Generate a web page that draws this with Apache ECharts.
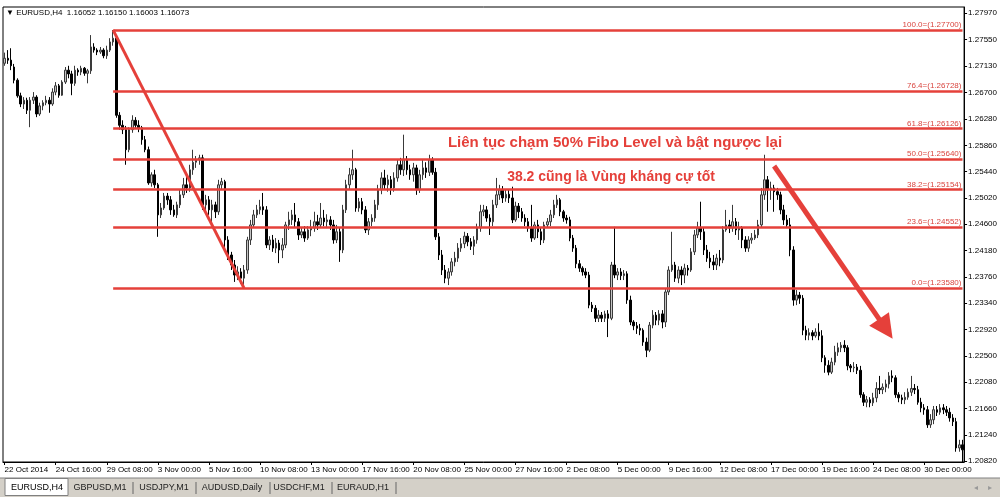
<!DOCTYPE html>
<html><head><meta charset="utf-8">
<script src="https://cdn.jsdelivr.net/npm/echarts@6/dist/echarts.min.js"></script>
<style>html,body{margin:0;padding:0;background:#fff}#c{width:1000px;height:497px}</style>
</head><body><div id="c"></div><script>
// EURUSD H4 candles
const opens=[
1.2717,1.2725,1.2722,1.2711,1.2690,1.2665,1.2652,1.2658,1.2642,1.2658,
1.2663,1.2636,1.2649,1.2654,1.2658,1.2652,1.2671,1.2681,1.2666,1.2687,
1.2706,1.2700,1.2685,1.2706,1.2703,1.2709,1.2701,1.2705,1.2743,1.2738,
1.2735,1.2738,1.2729,1.2738,1.2751,1.2757,1.2634,1.2618,1.2611,1.2579,
1.2611,1.2626,1.2618,1.2614,1.2595,1.2579,1.2526,1.2539,1.2523,1.2475,
1.2486,1.2505,1.2499,1.2483,1.2475,1.2491,1.2507,1.2523,1.2518,1.2547,
1.2559,1.2563,1.2566,1.2491,1.2499,1.2483,1.2491,1.2480,1.2523,1.2528,
1.2435,1.2411,1.2395,1.2379,1.2384,1.2374,1.2387,1.2435,1.2459,1.2475,
1.2483,1.2488,1.2483,1.2427,1.2435,1.2422,1.2430,1.2419,1.2427,1.2459,
1.2467,1.2475,1.2464,1.2443,1.2448,1.2438,1.2451,1.2454,1.2464,1.2459,
1.2470,1.2464,1.2467,1.2459,1.2435,1.2448,1.2419,1.2483,1.2523,1.2539,
1.2547,1.2486,1.2496,1.2483,1.2451,1.2464,1.2470,1.2491,1.2515,1.2534,
1.2523,1.2531,1.2518,1.2534,1.2555,1.2547,1.2563,1.2547,1.2539,1.2550,
1.2515,1.2539,1.2550,1.2543,1.2563,1.2543,1.2440,1.2411,1.2387,1.2374,
1.2384,1.2400,1.2406,1.2422,1.2429,1.2441,1.2432,1.2425,1.2435,1.2454,
1.2480,1.2483,1.2470,1.2464,1.2491,1.2507,1.2515,1.2502,1.2508,1.2502,
1.2467,1.2489,1.2480,1.2470,1.2464,1.2454,1.2438,1.2459,1.2448,1.2435,
1.2459,1.2464,1.2475,1.2491,1.2499,1.2480,1.2470,1.2467,1.2438,1.2422,
1.2397,1.2390,1.2384,1.2379,1.2331,1.2326,1.2310,1.2315,1.2310,1.2317,
1.2310,1.2395,1.2379,1.2384,1.2378,1.2381,1.2339,1.2304,1.2298,1.2294,
1.2291,1.2272,1.2259,1.2299,1.2315,1.2307,1.2317,1.2304,1.2352,1.2387,
1.2395,1.2374,1.2387,1.2379,1.2390,1.2387,1.2416,1.2443,1.2454,1.2448,
1.2419,1.2406,1.2400,1.2395,1.2406,1.2403,1.2451,1.2459,1.2454,1.2464,
1.2451,1.2454,1.2435,1.2422,1.2435,1.2438,1.2443,1.2459,1.2507,1.2531,
1.2515,1.2518,1.2512,1.2507,1.2483,1.2467,1.2459,1.2419,1.2339,1.2347,
1.2342,1.2291,1.2283,1.2287,1.2282,1.2288,1.2282,1.2247,1.2235,1.2224,
1.2240,1.2256,1.2263,1.2267,1.2263,1.2234,1.2231,1.2232,1.2227,1.2188,
1.2176,1.2180,1.2175,1.2183,1.2198,1.2196,1.2200,1.2205,1.2218,1.2215,
1.2188,1.2183,1.2180,1.2184,1.2192,1.2198,1.2196,1.2176,1.2167,1.2164,
1.2140,1.2148,1.2164,1.2160,1.2167,1.2164,1.2160,1.2151,1.2145,1.2103,1.2108];
const closes=[
1.2725,1.2722,1.2713,1.2690,1.2665,1.2652,1.2658,1.2642,1.2658,1.2663,
1.2636,1.2649,1.2654,1.2658,1.2652,1.2671,1.2681,1.2666,1.2687,1.2706,
1.2700,1.2685,1.2706,1.2703,1.2709,1.2701,1.2705,1.2743,1.2738,1.2735,
1.2738,1.2729,1.2738,1.2751,1.2757,1.2634,1.2618,1.2611,1.2579,1.2611,
1.2626,1.2618,1.2614,1.2595,1.2579,1.2526,1.2539,1.2523,1.2475,1.2486,
1.2505,1.2499,1.2483,1.2475,1.2491,1.2507,1.2523,1.2518,1.2547,1.2559,
1.2563,1.2566,1.2491,1.2499,1.2483,1.2491,1.2480,1.2523,1.2528,1.2435,
1.2411,1.2395,1.2379,1.2384,1.2374,1.2387,1.2435,1.2459,1.2475,1.2483,
1.2488,1.2483,1.2427,1.2435,1.2422,1.2430,1.2419,1.2427,1.2459,1.2467,
1.2475,1.2464,1.2443,1.2448,1.2438,1.2451,1.2454,1.2464,1.2459,1.2470,
1.2464,1.2467,1.2459,1.2435,1.2448,1.2419,1.2483,1.2523,1.2539,1.2547,
1.2486,1.2496,1.2483,1.2451,1.2464,1.2470,1.2491,1.2515,1.2534,1.2523,
1.2531,1.2518,1.2534,1.2555,1.2547,1.2563,1.2547,1.2539,1.2550,1.2515,
1.2539,1.2550,1.2543,1.2563,1.2543,1.2440,1.2411,1.2387,1.2374,1.2384,
1.2400,1.2406,1.2422,1.2429,1.2441,1.2432,1.2425,1.2435,1.2454,1.2480,
1.2483,1.2470,1.2464,1.2491,1.2507,1.2515,1.2502,1.2508,1.2502,1.2467,
1.2489,1.2480,1.2470,1.2464,1.2454,1.2438,1.2459,1.2448,1.2435,1.2459,
1.2464,1.2475,1.2491,1.2499,1.2480,1.2470,1.2467,1.2438,1.2422,1.2397,
1.2390,1.2384,1.2379,1.2331,1.2326,1.2310,1.2315,1.2310,1.2317,1.2310,
1.2395,1.2379,1.2384,1.2378,1.2381,1.2339,1.2304,1.2298,1.2294,1.2291,
1.2272,1.2259,1.2299,1.2315,1.2307,1.2317,1.2304,1.2352,1.2387,1.2395,
1.2374,1.2387,1.2379,1.2390,1.2387,1.2416,1.2443,1.2454,1.2448,1.2419,
1.2406,1.2400,1.2395,1.2406,1.2403,1.2451,1.2459,1.2454,1.2464,1.2451,
1.2454,1.2435,1.2422,1.2435,1.2438,1.2443,1.2459,1.2507,1.2531,1.2515,
1.2518,1.2512,1.2507,1.2483,1.2467,1.2459,1.2419,1.2339,1.2347,1.2342,
1.2291,1.2283,1.2287,1.2282,1.2288,1.2282,1.2247,1.2235,1.2224,1.2240,
1.2256,1.2263,1.2267,1.2263,1.2234,1.2231,1.2232,1.2227,1.2188,1.2176,
1.2180,1.2175,1.2183,1.2198,1.2196,1.2200,1.2205,1.2218,1.2215,1.2188,
1.2183,1.2180,1.2184,1.2192,1.2198,1.2196,1.2176,1.2167,1.2164,1.2140,
1.2148,1.2164,1.2160,1.2167,1.2164,1.2160,1.2151,1.2145,1.2103,1.2108,1.2100];
const lows=[
1.2713,1.2716,1.2706,1.2685,1.2662,1.2647,1.2644,1.2636,1.2615,1.2652,
1.2631,1.2633,1.2642,1.2650,1.2638,1.2649,1.2666,1.2662,1.2665,1.2684,
1.2693,1.2666,1.2681,1.2697,1.2698,1.2697,1.2685,1.2700,1.2734,1.2730,
1.2732,1.2725,1.2724,1.2735,1.2745,1.2630,1.2611,1.2604,1.2555,1.2575,
1.2606,1.2614,1.2607,1.2587,1.2575,1.2523,1.2520,1.2518,1.2440,1.2470,
1.2483,1.2491,1.2475,1.2472,1.2470,1.2486,1.2502,1.2510,1.2512,1.2539,
1.2550,1.2555,1.2483,1.2480,1.2475,1.2459,1.2470,1.2475,1.2515,1.2419,
1.2403,1.2387,1.2368,1.2371,1.2365,1.2358,1.2381,1.2427,1.2454,1.2470,
1.2476,1.2475,1.2422,1.2419,1.2416,1.2414,1.2398,1.2406,1.2422,1.2451,
1.2459,1.2454,1.2435,1.2438,1.2432,1.2435,1.2441,1.2448,1.2451,1.2454,
1.2457,1.2454,1.2451,1.2429,1.2430,1.2400,1.2414,1.2478,1.2515,1.2531,
1.2480,1.2480,1.2476,1.2446,1.2443,1.2457,1.2464,1.2483,1.2508,1.2515,
1.2512,1.2507,1.2512,1.2528,1.2539,1.2537,1.2539,1.2531,1.2528,1.2507,
1.2510,1.2531,1.2534,1.2537,1.2539,1.2435,1.2403,1.2379,1.2366,1.2363,
1.2378,1.2393,1.2400,1.2416,1.2422,1.2425,1.2419,1.2411,1.2429,1.2448,
1.2473,1.2464,1.2443,1.2457,1.2486,1.2499,1.2494,1.2496,1.2494,1.2462,
1.2464,1.2470,1.2464,1.2457,1.2448,1.2432,1.2435,1.2438,1.2427,1.2430,
1.2454,1.2457,1.2470,1.2486,1.2473,1.2464,1.2461,1.2433,1.2416,1.2390,
1.2384,1.2378,1.2374,1.2326,1.2320,1.2304,1.2304,1.2304,1.2304,1.2280,
1.2307,1.2374,1.2371,1.2371,1.2371,1.2333,1.2299,1.2291,1.2285,1.2283,
1.2266,1.2248,1.2256,1.2294,1.2299,1.2299,1.2294,1.2296,1.2347,1.2384,
1.2368,1.2366,1.2363,1.2366,1.2378,1.2384,1.2411,1.2438,1.2435,1.2411,
1.2400,1.2390,1.2387,1.2387,1.2393,1.2398,1.2448,1.2446,1.2448,1.2443,
1.2435,1.2422,1.2416,1.2416,1.2429,1.2435,1.2438,1.2454,1.2499,1.2480,
1.2499,1.2480,1.2499,1.2476,1.2459,1.2454,1.2409,1.2330,1.2331,1.2333,
1.2283,1.2275,1.2275,1.2275,1.2279,1.2275,1.2240,1.2223,1.2219,1.2221,
1.2235,1.2250,1.2256,1.2256,1.2227,1.2224,1.2224,1.2221,1.2183,1.2170,
1.2168,1.2168,1.2170,1.2176,1.2189,1.2189,1.2192,1.2198,1.2208,1.2183,
1.2176,1.2173,1.2173,1.2180,1.2186,1.2189,1.2172,1.2160,1.2156,1.2135,
1.2135,1.2141,1.2154,1.2156,1.2157,1.2154,1.2145,1.2138,1.2097,1.2097,1.2079];
const highs=[
1.2734,1.2738,1.2741,1.2716,1.2693,1.2670,1.2663,1.2662,1.2663,1.2671,
1.2666,1.2654,1.2658,1.2665,1.2663,1.2677,1.2687,1.2684,1.2690,1.2711,
1.2713,1.2705,1.2713,1.2709,1.2713,1.2711,1.2708,1.2762,1.2749,1.2741,
1.2743,1.2741,1.2745,1.2757,1.2770,1.2761,1.2639,1.2626,1.2617,1.2615,
1.2634,1.2631,1.2626,1.2617,1.2601,1.2584,1.2543,1.2547,1.2526,1.2494,
1.2510,1.2510,1.2505,1.2491,1.2496,1.2515,1.2534,1.2537,1.2555,1.2579,
1.2569,1.2571,1.2571,1.2507,1.2505,1.2499,1.2496,1.2531,1.2534,1.2531,
1.2441,1.2416,1.2403,1.2393,1.2390,1.2395,1.2440,1.2467,1.2483,1.2491,
1.2499,1.2510,1.2489,1.2441,1.2443,1.2438,1.2435,1.2438,1.2464,1.2480,
1.2483,1.2494,1.2470,1.2454,1.2457,1.2457,1.2467,1.2480,1.2475,1.2494,
1.2483,1.2476,1.2473,1.2467,1.2459,1.2454,1.2491,1.2531,1.2550,1.2579,
1.2550,1.2502,1.2502,1.2489,1.2470,1.2476,1.2499,1.2523,1.2543,1.2547,
1.2539,1.2537,1.2543,1.2563,1.2566,1.2603,1.2569,1.2555,1.2558,1.2555,
1.2547,1.2563,1.2559,1.2571,1.2567,1.2550,1.2446,1.2419,1.2395,1.2390,
1.2406,1.2416,1.2430,1.2438,1.2448,1.2446,1.2438,1.2441,1.2461,1.2491,
1.2491,1.2489,1.2476,1.2499,1.2534,1.2523,1.2521,1.2516,1.2516,1.2520,
1.2496,1.2494,1.2486,1.2476,1.2470,1.2491,1.2464,1.2467,1.2454,1.2464,
1.2470,1.2483,1.2499,1.2507,1.2502,1.2483,1.2475,1.2472,1.2443,1.2427,
1.2403,1.2393,1.2390,1.2384,1.2336,1.2331,1.2323,1.2320,1.2322,1.2323,
1.2400,1.2456,1.2390,1.2390,1.2387,1.2385,1.2346,1.2307,1.2304,1.2301,
1.2294,1.2279,1.2304,1.2323,1.2320,1.2323,1.2323,1.2358,1.2393,1.2448,
1.2400,1.2393,1.2393,1.2397,1.2395,1.2422,1.2451,1.2464,1.2496,1.2454,
1.2427,1.2416,1.2411,1.2413,1.2419,1.2457,1.2483,1.2467,1.2491,1.2470,
1.2464,1.2457,1.2441,1.2441,1.2446,1.2451,1.2467,1.2518,1.2571,1.2537,
1.2528,1.2523,1.2518,1.2512,1.2491,1.2475,1.2470,1.2425,1.2355,1.2352,
1.2347,1.2298,1.2294,1.2291,1.2294,1.2302,1.2291,1.2251,1.2243,1.2247,
1.2266,1.2271,1.2272,1.2275,1.2267,1.2237,1.2240,1.2237,1.2234,1.2192,
1.2186,1.2184,1.2191,1.2208,1.2218,1.2206,1.2212,1.2224,1.2227,1.2219,
1.2192,1.2188,1.2192,1.2198,1.2218,1.2205,1.2202,1.2183,1.2173,1.2170,
1.2157,1.2170,1.2170,1.2173,1.2173,1.2170,1.2167,1.2157,1.2151,1.2116,1.2116];

const tickLabels=['22 Oct 2014','24 Oct 16:00','29 Oct 08:00','3 Nov 00:00','5 Nov 16:00','10 Nov 08:00','13 Nov 00:00','17 Nov 16:00','20 Nov 08:00','25 Nov 00:00','27 Nov 16:00','2 Dec 08:00','5 Dec 00:00','9 Dec 16:00','12 Dec 08:00','17 Dec 00:00','19 Dec 16:00','24 Dec 08:00','30 Dec 00:00'];
const barsPerLabel=16;
const priceTicks=[1.27970,1.27550,1.27130,1.26700,1.26280,1.25860,1.25440,1.25020,1.24600,1.24180,1.23760,1.23340,1.22920,1.22500,1.22080,1.21660,1.21240,1.20820];
const priceMin=1.20806, priceMax=1.28068;
const fiboLevels=[100.0,76.4,61.8,50.0,38.2,23.6,0.0];
const fiboPrices=[1.27700,1.26728,1.26126,1.25640,1.25154,1.24552,1.23580];
const fiboStartBar=34, fiboEndBar=300;
const trendLine=[[34,1.2770],[75,1.2358]];
const arrowLine=[[241,1.2553],[276,1.2293]];
const headerText='EURUSD,H4  1.16052 1.16150 1.16003 1.16073';
const noteTexts=['Liên tục chạm 50% Fibo Level và bật ngược lại','38.2 cũng là Vùng kháng cự tốt'];
const tabs=['EURUSD,H4','GBPUSD,M1','USDJPY,M1','AUDUSD,Daily','USDCHF,M1','EURAUD,H1'];

const RED='#e5403a';
const FONT='"Liberation Sans", Arial, sans-serif';
const categories=opens.map((_,i)=>String(i));
const candles=opens.map((o,i)=>[o,closes[i],lows[i],highs[i]]);

const fiboMarks=fiboPrices.map((p,k)=>[
  {coord:[fiboStartBar,p],
   label:{show:true,position:'insideEndTop',distance:1,formatter:fiboLevels[k].toFixed(1)+'=('+p.toFixed(5)+')',
          color:'#d9453f',fontSize:8,fontFamily:FONT}},
  {coord:[fiboEndBar,p]}
]);

const chart=echarts.init(document.getElementById('c'),null,{renderer:'canvas'});

// tab bar graphics
const tabX=[6,72,137,199,271,335];
const tabW=[62,56,54,66,56,56];
const tabGraphics=[];
tabGraphics.push({type:'rect',shape:{x:0,y:478,width:1000,height:19},style:{fill:'#d4d0c8'},silent:true});
tabGraphics.push({type:'line',shape:{x1:0,y1:478,x2:1000,y2:478},style:{stroke:'#808080',lineWidth:1}});
tabGraphics.push({type:'rect',shape:{x:5,y:478.5,width:63,height:17},style:{fill:'#ffffff',stroke:'#808080',lineWidth:1}});
tabs.forEach((t,i)=>{
  tabGraphics.push({type:'text',style:{x:tabX[i]+tabW[i]/2,y:488,text:t,align:'center',verticalAlign:'middle',font:'9px '+FONT,fill:i===0?'#000':'#222'}});
  if(i>0) tabGraphics.push({type:'line',shape:{x1:tabX[i]+tabW[i]+5,y1:482,x2:tabX[i]+tabW[i]+5,y2:494},style:{stroke:'#666',lineWidth:1}});
});
tabGraphics.push({type:'text',style:{x:976,y:488,text:'◂',align:'center',verticalAlign:'middle',font:'8px '+FONT,fill:'#999'}});
tabGraphics.push({type:'text',style:{x:990,y:488,text:'▸',align:'center',verticalAlign:'middle',font:'8px '+FONT,fill:'#999'}});

chart.setOption({
  animation:false,
  backgroundColor:'#ffffff',
  grid:{left:3,right:35,top:7,bottom:35,show:true,borderColor:'#000',borderWidth:1,backgroundColor:'#fff'},
  xAxis:{type:'category',data:categories,boundaryGap:true,
    axisLine:{lineStyle:{color:'#000',width:1}},
    axisTick:{show:true,alignWithLabel:true,interval:barsPerLabel-1,length:3,lineStyle:{color:'#000'}},
    axisLabel:{interval:barsPerLabel-1,align:'left',margin:4,fontSize:8,fontFamily:FONT,color:'#000',
      formatter:(v,i)=>tickLabels[Math.round(i/barsPerLabel)]||''},
    splitLine:{show:false}},
  yAxis:{type:'value',position:'right',min:priceMin,max:priceMax,scale:true,
    axisLine:{show:true,lineStyle:{color:'#000',width:1}},
    axisTick:{show:true,length:3,customValues:priceTicks,lineStyle:{color:'#000'}},
    axisLabel:{customValues:priceTicks,margin:4,fontSize:8,fontFamily:FONT,color:'#000',formatter:v=>v.toFixed(5)},
    splitLine:{show:false}},
  series:[
    {type:'candlestick',data:candles,barWidth:2,silent:true,
      itemStyle:{color:'#c4c4c4',color0:'#000000',borderColor:'#3a3a3a',borderColor0:'#000000',borderWidth:1}},
    {type:'line',data:trendLine,symbol:'circle',symbolSize:4,silent:true,z:5,
      lineStyle:{color:RED,width:3},itemStyle:{color:RED},
      markLine:{silent:true,animation:false,symbol:['none','none'],z:4,
        lineStyle:{color:RED,width:2.5,type:'solid'},
        emphasis:{disabled:true},
        data:fiboMarks.concat([[
          {coord:arrowLine[0],symbol:'none',lineStyle:{color:RED,width:5,type:'solid'},label:{show:false}},
          {coord:arrowLine[1],symbol:'triangle',symbolSize:24}
        ]])}}
  ],
  graphic:[
    {type:'text',style:{x:6,y:13,text:'▼ '+headerText,verticalAlign:'middle',font:'8px '+FONT,fill:'#000'}},
    {type:'text',style:{x:615,y:143,text:noteTexts[0],align:'center',verticalAlign:'middle',font:'bold 15px '+FONT,fill:RED}},
    {type:'text',style:{x:611,y:177,text:noteTexts[1],align:'center',verticalAlign:'middle',font:'bold 14px '+FONT,fill:RED}},
    ...tabGraphics
  ]
});
</script></body></html>
